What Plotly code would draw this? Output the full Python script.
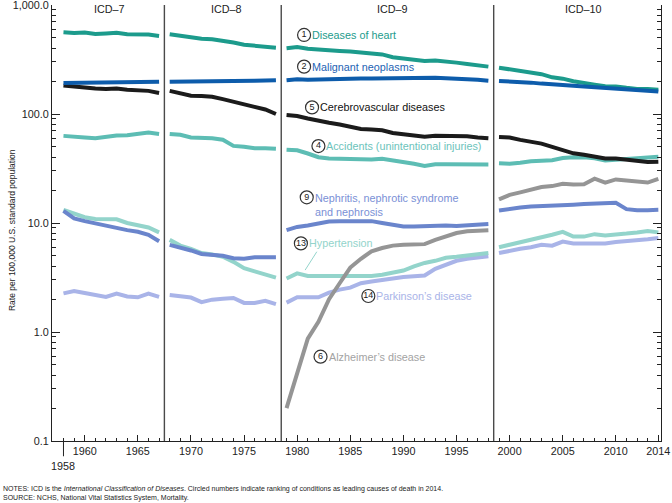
import numpy as np
import plotly.graph_objects as go

# Age-adjusted death rates per 100,000, 1958-2014
YEARS = list(range(1958, 2015))
ALZ_YEARS = list(range(1979, 2015))

# ICD revision periods and the breaks drawn between them
PERIODS = [(1958, 1967), (1968, 1978), (1979, 1998), (1999, 2014)]
ICD_BREAKS = [1967.5, 1978.5, 1998.5]
ICD_NAMES = ["ICD\u20137", "ICD\u20138", "ICD\u20139", "ICD\u201310"]
ICD_LABEL_X = [1962.3, 1973.3, 1989.0, 2007.0]

HEART = [561, 553, 559, 541, 548, 556, 538, 538, 535, 520,
         538, 522, 496, 490, 484, 470, 452, 432, 425, 415, 406,
         402, 412, 397, 389, 389, 379, 375, 365, 356, 352, 332, 322, 312, 306, 310, 300, 296, 288, 280, 272,
         266, 258, 248, 241, 232, 217, 211, 200, 191, 186, 180, 179, 174, 170, 170, 167]
CANCER = [192, 193, 194, 194, 194, 195, 195, 196, 197, 198,
          198, 198, 199, 199, 200, 200, 201, 201, 202, 203, 204,
          204, 208, 206, 208, 209, 211, 211, 212, 212, 213, 214, 216, 216, 214, 215, 213, 212, 209, 206, 202,
          201, 200, 196, 194, 190, 186, 185, 182, 179, 176, 174, 173, 169, 167, 163, 161]
STROKE = [183, 178, 176, 171, 170, 171, 167, 164, 163, 156,
          163, 155, 147, 146, 144, 137, 130, 121, 116, 110, 100,
          98, 96, 91, 86, 83, 80, 77, 73, 72, 71, 67, 65, 63, 62, 63, 63, 63, 62.5, 61, 60,
          61.6, 60.9, 57.9, 56.2, 53.5, 50.0, 46.6, 43.6, 42.2, 40.7, 39.1, 39.1, 37.9, 36.9, 36.2, 36.5]
ACCIDENTS = [63, 62.5, 61, 60, 62, 63.5, 64, 65.5, 67.5, 65.5,
             65.6, 64.4, 61, 60.5, 60, 58, 51, 50, 48.5, 48.5, 48,
             47, 46.4, 43.4, 40.1, 39.1, 38.8, 38.5, 38.6, 38.2, 38.9, 37.7, 36.3, 34.9, 33.4, 34.6, 34.6, 34.4, 34.5, 34.2, 34.5,
             35.3, 34.9, 35.7, 36.9, 37.3, 37.7, 39.5, 40.2, 40.0, 39.2, 37.5, 38.0, 38.6, 39.1, 39.4, 40.5]
NEPHRITIS = [12.9, 11.0, 10.4, 9.9, 9.4, 8.9, 8.6, 8.3, 7.8, 6.8,
             6.3, 6.0, 5.6, 5.2, 5.1, 5.0, 4.75, 4.7, 4.85, 4.85, 4.85,
             8.6, 9.2, 9.5, 9.9, 10.3, 10.4, 10.4, 10.4, 10.4, 10.0, 9.6, 9.3, 9.3, 9.4, 9.5, 9.5, 9.4, 9.5, 9.6, 9.8,
             13.0, 13.5, 13.9, 14.2, 14.4, 14.5, 14.6, 14.7, 14.9, 15.1, 15.1, 15.3, 13.4, 13.1, 13.1, 13.2]
HYPERTENSION = [13.2, 12.2, 11.3, 10.9, 10.9, 10.8, 10.0, 9.6, 9.1, 8.2,
                7.0, 6.2, 5.8, 5.3, 5.15, 4.9, 4.4, 3.85, 3.6, 3.35, 3.15,
                3.1, 3.45, 3.27, 3.27, 3.27, 3.27, 3.27, 3.27, 3.27, 3.35, 3.5, 3.66, 4.0, 4.3, 4.5, 4.8, 4.9, 5.05, 5.15, 5.3,
                6.0, 6.3, 6.6, 7.0, 7.4, 7.8, 8.3, 7.5, 7.5, 7.9, 7.7, 7.8, 8.0, 8.2, 8.45, 8.2]
PARKINSON = [2.26, 2.38, 2.28, 2.18, 2.1, 2.25, 2.12, 2.08, 2.25, 2.1,
             2.18, 2.12, 2.07, 1.88, 1.98, 2.02, 2.05, 1.85, 1.85, 1.93, 1.8,
             1.86, 2.08, 2.08, 2.08, 2.3, 2.45, 2.55, 2.8, 2.9, 3.0, 3.1, 3.2, 3.25, 3.3, 3.8, 4.1, 4.5, 4.7, 4.85, 4.95,
             5.3, 5.6, 5.8, 6.0, 6.3, 6.2, 6.75, 6.5, 6.5, 6.6, 6.5, 6.7, 6.8, 7.0, 7.1, 7.3]
ALZHEIMER = [0.2, 0.42, 0.87, 1.24, 2.0, 2.8, 3.9, 4.7, 5.5, 5.9, 6.2, 6.3, 6.3, 6.4, 7.0, 7.6, 8.1, 8.4, 8.5, 8.6,
             16.5, 18.1, 19.1, 20.2, 21.4, 21.8, 22.9, 22.6, 22.7, 25.5, 23.5, 25.1, 24.6, 23.8, 23.5, 25.4]

# (name, years, values, line colour, label colour, rank, label year, label value)
SERIES = [
    ("Parkinson\u2019s disease", YEARS, PARKINSON, "#a9b4e8", "#a9b4e8", 14, 1986.7, 2.14),
    ("Hypertension", YEARS, HYPERTENSION, "#93d4cb", "#93d4cb", 13, 1980.35, 6.5),
    ("Nephritis, nephrotic syndrome<br>and nephrosis", YEARS, NEPHRITIS, "#6a85cc", "#7a90d6", 9, 1980.9, 17.2),
    ("Alzheimer\u2019s disease", ALZ_YEARS, ALZHEIMER, "#959595", "#a3a3a3", 6, 1982.2, 0.594),
    ("Accidents (unintentional injuries)", YEARS, ACCIDENTS, "#5dbdb4", "#6cc3bb", 4, 1982.0, 50.8),
    ("Diseases of heart", YEARS, HEART, "#1c9b8c", "#1c9b8c", 1, 1980.65, 531),
    ("Cerebrovascular diseases", YEARS, STROKE, "#1b1b1b", "#111111", 5, 1981.4, 115),
    ("Malignant neoplasms", YEARS, CANCER, "#0d5cab", "#1d62b3", 2, 1980.65, 272),
]

# Hypertension label leader line (year, rate)
LEADER_X = [1981.85, 1980.75]
LEADER_Y = [5.45, 3.7]

# log-axis minor tick positions
MINOR_Y = [m * 10.0 ** e for e in (-1, 0, 1, 2) for m in range(2, 10)]

FONT = "Liberation Sans, Arial, sans-serif"


def segmented(years, values):
    # one run of points per ICD period, broken by None
    xs, ys = [], []
    for lo, hi in PERIODS:
        for yr, v in zip(years, values):
            if lo <= yr <= hi:
                xs.append(yr)
                ys.append(v)
        xs.append(None)
        ys.append(None)
    return xs, ys


fig = go.Figure()

# empty trace so the minor-tick overlay axis gets drawn
fig.add_trace(go.Scatter(x=[None], y=[None], yaxis="y2", hoverinfo="skip"))

for name, yrs, vals, color, lcolor, rank, lx, ly in SERIES:
    xs, ys = segmented(yrs, vals)
    fig.add_trace(go.Scatter(
        x=xs, y=ys, mode="lines", name=name.replace("<br>", " "),
        line=dict(color=color, width=4), connectgaps=False,
        hoverinfo="x+y+name",
    ))

fig.add_trace(go.Scatter(
    x=LEADER_X, y=LEADER_Y, mode="lines",
    line=dict(color="#93d4cb", width=1), hoverinfo="skip",
))

# circled rank numbers
fig.add_trace(go.Scatter(
    x=[s[6] for s in SERIES], y=[s[7] for s in SERIES],
    mode="markers+text", text=[str(s[5]) for s in SERIES],
    textposition="middle center",
    textfont=dict(family=FONT, size=9, color="#222"),
    marker=dict(symbol="circle", size=13, color="white",
                line=dict(color="#333", width=1.2)),
    hoverinfo="skip",
))

annotations = []
for name, yrs, vals, color, lcolor, rank, lx, ly in SERIES:
    annotations.append(dict(
        x=lx, y=np.log10(ly), xref="x", yref="y", text=name,
        xanchor="left", yanchor="top" if "<br>" in name else "middle",
        yshift=7 if "<br>" in name else 0,
        xshift=6, align="left", showarrow=False,
        font=dict(family=FONT, size=10.8, color=lcolor),
    ))

for lbl, lx in zip(ICD_NAMES, ICD_LABEL_X):
    annotations.append(dict(
        x=lx, y=0.99, xref="x", yref="paper", text=lbl, showarrow=False,
        yanchor="middle", font=dict(family=FONT, size=10.8, color="#222"),
    ))

annotations += [
    dict(x=1958, y=-0.057, xref="x", yref="paper", text="1958", showarrow=False,
         yanchor="middle", font=dict(family=FONT, size=10.8, color="#222")),
    dict(x=-0.077, y=0.484, xref="paper", yref="paper", textangle=-90,
         text="Rate per 100,000 U.S. standard population", showarrow=False,
         font=dict(family=FONT, size=8.5, color="#222")),
    dict(x=-0.083, y=-0.121, xref="paper", yref="paper", xanchor="left", yanchor="middle",
         align="left", showarrow=False,
         font=dict(family=FONT, size=7, color="#222"),
         text="NOTES: ICD is the <i>International Classification of Diseases</i>. "
              "Circled numbers indicate ranking of conditions as leading causes of death in 2014."
              "<br>SOURCE: NCHS, National Vital Statistics System, Mortality."),
]

shapes = [dict(type="line", x0=b, x1=b, y0=0, y1=1, xref="x", yref="paper",
               line=dict(color="#4a4a4a", width=1.4)) for b in ICD_BREAKS]
shapes.append(dict(type="line", x0=1958, x1=1958, y0=0, y1=-0.035, xref="x", yref="paper",
                   line=dict(color="#222", width=1)))

YRANGE = [-1, 3]

fig.update_layout(
    width=672, height=503,
    margin=dict(l=52, r=11, t=5, b=62),
    paper_bgcolor="white", plot_bgcolor="white",
    showlegend=False,
    font=dict(family=FONT, size=10.8, color="#222"),
    annotations=annotations,
    shapes=shapes,
    xaxis=dict(
        range=[1956.92, 2014.25], automargin=False,
        tickvals=[1960, 1965, 1970, 1975, 1980, 1985, 1990, 1995, 2000, 2005, 2010, 2014],
        ticks="inside", ticklen=6, tickcolor="#222", ticklabeloverflow="allow",
        minor=dict(ticks="inside", ticklen=3, dtick=1, tick0=1958, tickcolor="#222"),
        showline=True, linecolor="#222", linewidth=1,
        showgrid=False, zeroline=False,
    ),
    yaxis=dict(
        type="log", range=YRANGE, automargin=False,
        tickvals=[0.1, 1, 10, 100, 1000],
        ticktext=["0.1", "1.0", "10.0", "100.0", "1,000.0"],
        ticks="inside", ticklen=8, tickcolor="#222", ticklabeloverflow="allow",
        showline=True, linecolor="#222", linewidth=1, mirror="ticks",
        showgrid=False, zeroline=False,
    ),
    yaxis2=dict(
        type="log", range=YRANGE, overlaying="y", side="left", automargin=False,
        tickvals=MINOR_Y, showticklabels=False,
        ticks="inside", ticklen=4, tickcolor="#222",
        showline=True, linecolor="#222", linewidth=1, mirror="ticks",
        showgrid=False, zeroline=False,
    ),
)

# drop the default page margin so the figure sits at the window corner
fig.write_html("out.html", config={"displayModeBar": False},
               post_script="document.body.style.margin='0';")
